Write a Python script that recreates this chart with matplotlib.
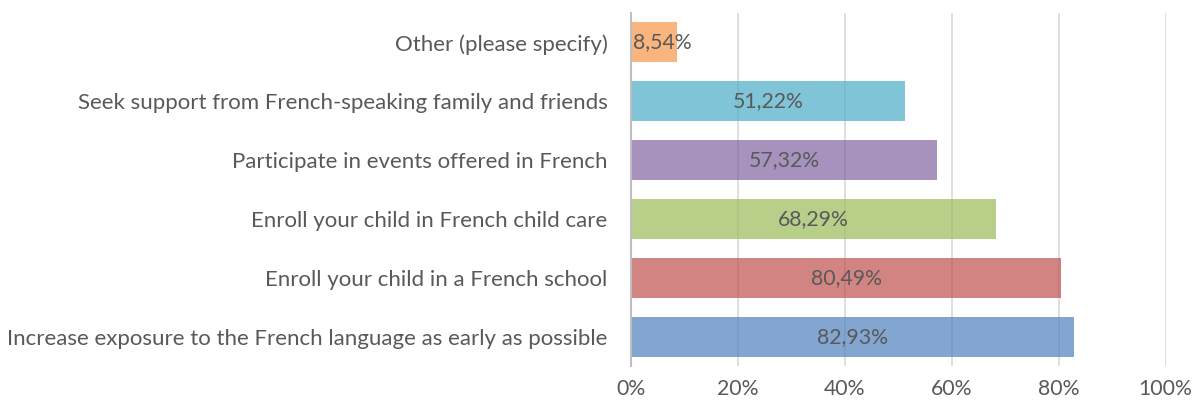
import matplotlib.pyplot as plt
from matplotlib.ticker import FuncFormatter

categories = [
    "Increase exposure to the French language as early as possible",
    "Enroll your child in a French school",
    "Enroll your child in French child care",
    "Participate in events offered in French",
    "Seek support from French-speaking family and friends",
    "Other (please specify)",
]
values = [82.93, 80.49, 68.29, 57.32, 51.22, 8.54]
colors = ["#4F81BD", "#C0504D", "#9BBB59", "#8064A2", "#4BACC6", "#F79646"]

plt.rcParams['font.family'] = ['Lato', 'DejaVu Sans']
text_color = "#595959"

fig = plt.figure(figsize=(11.93, 4.07), dpi=100)
ax = fig.add_axes([0.529, 0.1007, 0.448, 0.8673])

ax.set_axisbelow(True)
ax.grid(axis='x', color='#D9D9D9', linewidth=1.2)
ax.barh(range(len(values)), values, height=0.68, color=colors, alpha=0.7)

for i, v in enumerate(values):
    ax.text(v / 2 if v > 20 else 0.4, i, f"{v:.2f}%".replace('.', ','),
            ha='center' if v > 20 else 'left', va='center',
            fontsize=15.3, color=text_color)

ax.set_xlim(0, 100)
ax.set_ylim(-0.5, len(values) - 0.5)
ax.set_xticks(range(0, 101, 20))
ax.xaxis.set_major_formatter(FuncFormatter(lambda x, p: f"{x:.0f}%"))
ax.set_yticks(range(len(values)))
ax.set_yticklabels(categories)
ax.tick_params(axis='both', length=0, colors=text_color)
ax.tick_params(axis='x', pad=9, labelsize=15.3)
ax.tick_params(axis='y', pad=17, labelsize=16)

for s in ['top', 'right', 'bottom']:
    ax.spines[s].set_visible(False)
ax.spines['left'].set_color('#BFBFBF')
ax.spines['left'].set_linewidth(1.5)

fig.savefig("out.png", dpi=100)
